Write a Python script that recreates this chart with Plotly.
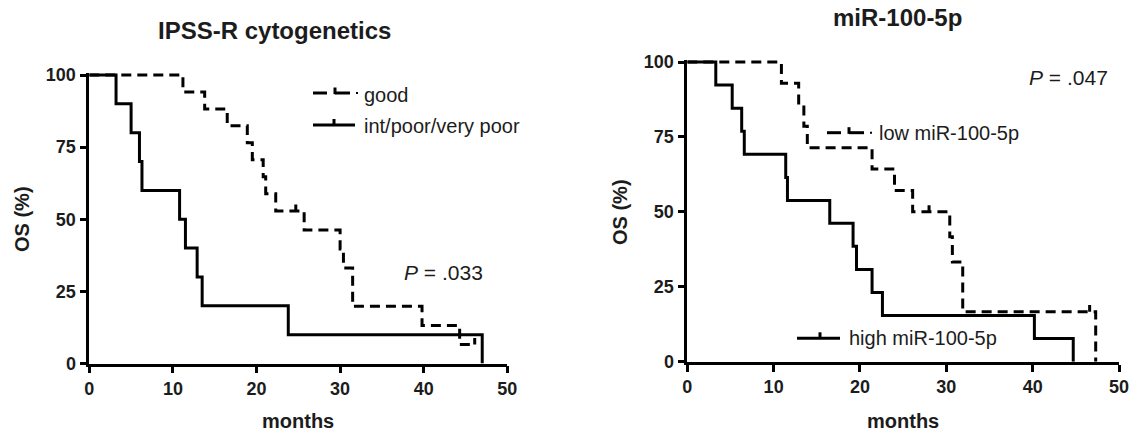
import plotly.graph_objects as go

W, H = 1136, 434

# ---- Kaplan-Meier data: event times (months) and survival (%) ----
# IPSS-R cytogenetics
good_t = [0, 11.2, 13.8, 16.5, 18.9, 19.5, 20.8, 21.1, 22.3, 25.7, 30.0, 30.4, 31.5, 39.8, 44.3, 46.1]
good_s = [100, 94.1, 88.2, 82.4, 76.5, 70.6, 64.7, 58.8, 52.9, 46.3, 39.7, 33.1, 19.8, 13.2, 6.6, 6.6]
good_cens_t = [24.7, 46.1]
good_cens_s = [52.9, 6.6]

poor_t = [0, 3.2, 5.0, 6.0, 6.3, 10.8, 11.5, 12.9, 13.5, 23.8, 47.0]
poor_s = [100, 90, 80, 70, 60, 50, 40, 30, 20, 10, 0]

# miR-100-5p
low_t = [0, 10.9, 12.9, 13.5, 13.9, 21.4, 24.0, 26.1, 30.4, 30.7, 31.9, 47.3]
low_s = [100, 92.9, 85.7, 78.6, 71.4, 64.3, 57.1, 50.0, 41.7, 33.3, 16.7, 0]
low_cens_t = [28.0, 46.6]
low_cens_s = [50.0, 16.7]

high_t = [0, 3.3, 5.2, 6.3, 6.6, 11.4, 11.6, 16.5, 19.2, 19.6, 21.4, 22.6, 40.2, 44.7]
high_s = [100, 92.3, 84.6, 76.9, 69.2, 61.5, 53.8, 46.2, 38.5, 30.8, 23.1, 15.4, 7.7, 0]

x_ticks = [0, 10, 20, 30, 40, 50]
y_ticks = [0, 25, 50, 75, 100]

titles = ["IPSS-R cytogenetics", "miR-100-5p"]
p_values = ["<i>P</i> = .033", "<i>P</i> = .047"]
legend_left = ["good", "int/poor/very poor"]
legend_right = ["low miR-100-5p", "high miR-100-5p"]

FONT = "Liberation Sans, Arial, sans-serif"
INK = "#1c1c1c"
LW = 3
DASH = "10px,6px"
TICK_UP = 2.2   # height of censor marks, in % units
Y_PAD = 0.8     # headroom above 100 % so the top of the curves is not clipped


def px(x):
    return x / W


def py(y):
    return 1 - y / H


def censor_marks(ts, ss):
    xs, ys = [], []
    for t, s in zip(ts, ss):
        xs += [t, t, None]
        ys += [s, s + TICK_UP, None]
    return xs, ys


def y_domain(pix_zero, pix_hundred):
    per_unit = (pix_zero - pix_hundred) / 100.0
    return [py(pix_zero), py(pix_hundred - Y_PAD * per_unit)]


fig = go.Figure()

# left panel curves
fig.add_trace(go.Scatter(x=poor_t, y=poor_s, mode="lines", line=dict(color="black", width=LW, shape="hv"),
                         xaxis="x", yaxis="y", hoverinfo="skip"))
fig.add_trace(go.Scatter(x=good_t, y=good_s, mode="lines",
                         line=dict(color="black", width=LW, shape="hv", dash=DASH),
                         xaxis="x", yaxis="y", hoverinfo="skip"))
cx, cy = censor_marks(good_cens_t, good_cens_s)
fig.add_trace(go.Scatter(x=cx, y=cy, mode="lines", line=dict(color="black", width=LW),
                         xaxis="x", yaxis="y", hoverinfo="skip"))

# right panel curves
fig.add_trace(go.Scatter(x=high_t, y=high_s, mode="lines", line=dict(color="black", width=LW, shape="hv"),
                         xaxis="x2", yaxis="y2", hoverinfo="skip"))
fig.add_trace(go.Scatter(x=low_t, y=low_s, mode="lines",
                         line=dict(color="black", width=LW, shape="hv", dash=DASH),
                         xaxis="x2", yaxis="y2", hoverinfo="skip"))
cx, cy = censor_marks(low_cens_t, low_cens_s)
fig.add_trace(go.Scatter(x=cx, y=cy, mode="lines", line=dict(color="black", width=LW),
                         xaxis="x2", yaxis="y2", hoverinfo="skip"))

axis_common = dict(
    showline=True, linecolor="black", linewidth=2.6, mirror=False,
    ticks="outside", ticklen=7, tickwidth=2.6, tickcolor="black",
    showgrid=False, zeroline=False, fixedrange=True,
    tickfont=dict(family=FONT, size=18, color=INK, weight="bold"),
)

fig.update_layout(
    width=W, height=H,
    margin=dict(l=0, r=0, t=0, b=0, autoexpand=False),
    paper_bgcolor="white", plot_bgcolor="white",
    showlegend=False,
    xaxis=dict(domain=[px(89.3), px(507.3)], range=[0, 50], tickvals=x_ticks, anchor="y", **axis_common),
    yaxis=dict(domain=y_domain(363.5, 75), range=[0, 100 + Y_PAD], tickvals=y_ticks, anchor="x", **axis_common),
    xaxis2=dict(domain=[px(687.3), px(1119)], range=[0, 50], tickvals=x_ticks, anchor="y2", **axis_common),
    yaxis2=dict(domain=y_domain(361.7, 62), range=[0, 100 + Y_PAD], tickvals=y_ticks, anchor="x2", **axis_common),
)

ann = []


def text(x, y, s, size, bold=False, xanchor="center", angle=0):
    ann.append(dict(x=px(x), y=py(y), xref="paper", yref="paper", text=s, showarrow=False,
                    xanchor=xanchor, yanchor="middle", textangle=angle,
                    font=dict(family=FONT, size=size, color=INK, weight="bold" if bold else "normal")))


# titles
text(274, 30, titles[0], 24, bold=True)
text(897, 17, titles[1], 24, bold=True)
# axis titles
text(298, 421, "months", 20, bold=True)
text(903, 421, "months", 20, bold=True)
text(22, 219, "OS (%)", 20, bold=True, angle=-90)
text(620, 212, "OS (%)", 20, bold=True, angle=-90)
# p-values
text(443, 272, p_values[0], 21)
text(1068, 77, p_values[1], 21)
# legend labels
text(362, 95, legend_left[0], 20, xanchor="left")
text(362, 126, legend_left[1], 20, xanchor="left")
text(877, 133, legend_right[0], 20, xanchor="left")
text(847, 338, legend_right[1], 20, xanchor="left")
fig.update_layout(annotations=ann)

shapes = []


def seg(x0, y0, x1, y1, w=LW):
    shapes.append(dict(type="line", xref="paper", yref="paper", x0=px(x0), y0=py(y0), x1=px(x1), y1=py(y1),
                       line=dict(color="black", width=w)))


def dashed_key(x0, y):
    # dash, censored step, dot
    seg(x0, y, x0 + 14, y)
    seg(x0 + 22, y - 5.5, x0 + 22, y + 1.2)
    seg(x0 + 22, y, x0 + 37, y)
    seg(x0 + 43, y, x0 + 45, y, w=2)


def solid_key(x0, x1, y, xt):
    seg(x0, y, x1, y)
    seg(xt, y - 6, xt, y)


dashed_key(313, 93)
solid_key(313, 355, 125, 334)
dashed_key(827, 132.7)
solid_key(797, 840, 338.3, 820)
fig.update_layout(shapes=shapes)

fig.write_html("out.html")
